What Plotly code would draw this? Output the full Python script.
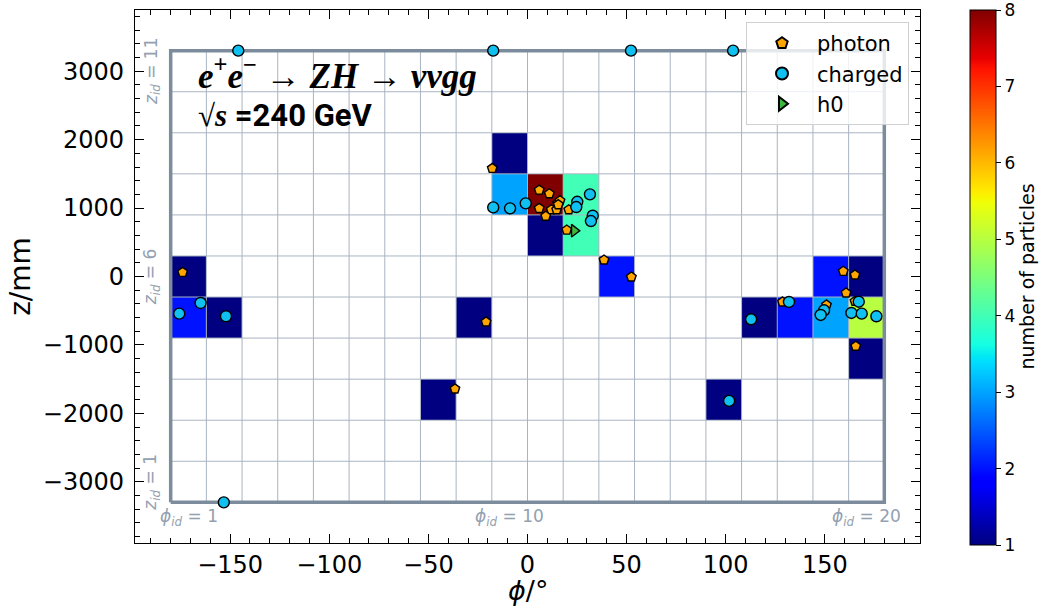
import numpy as np
import plotly.graph_objects as go

# Detector binning: 20 phi cells x 11 z cells
PHI_EDGES = np.linspace(-180, 180, 21)
Z_EDGES = np.linspace(-3300, 3300, 12)

# Occupied cells: (phi_id, z_id, number of particles)
cell_phi_id = [1, 1, 2, 8, 9, 10, 10, 11, 11, 12, 12, 13, 16, 17, 18, 19, 19, 20, 20, 20]
cell_z_id   = [6, 5, 5, 3, 5, 9, 8, 8, 7, 8, 7, 6, 3, 5, 5, 6, 5, 6, 5, 4]
cell_count  = [1, 2, 1, 1, 1, 1, 3, 8, 1, 4, 4, 2, 1, 1, 2, 2, 3, 1, 5, 1]

# Particle positions (phi in degrees, z in mm)
photon_phi = [-174.0, -36.6, -20.9, -17.8, 5.9, 11.0, 15.2, 5.9, 12.0, 14.7, 16.4, 15.5,
              9.2, 20.8, 19.8, 38.6, 52.4, 128.6, 159.3, 160.7, 165.2, 150.8, 165.2, 165.6]
photon_z = [61, -1642, -664, 1580, 1263, 1209, 1069, 996, 975, 975, 1107, 1050,
            880, 975, 679, 241, -7, -372, 76, -241, 22, -416, -362, -1019]

charged_phi = [-175.7, -164.9, -152.1, -17.3, -8.8, -0.9, 25.1, 24.6, 31.5, 32.9, 32.0,
               101.7, 112.8, 131.9, 149.6, 147.9, 167.1, 163.4, 168.6, 176.0,
               -145.9, -17.3, 52.2, 103.7, -153.2]
charged_z = [-543, -387, -581, 1010, 996, 1069, 1092, 1015, 1200, 888, 810,
             -1818, -625, -372, -494, -562, -368, -533, -543, -581,
             3300, 3300, 3300, 3300, -3300]

h0_phi = [23.6]
h0_z = [669]

# matplotlib-style "jet" colour map
JET = {
    "r": [(0, 0), (0.35, 0), (0.66, 1), (0.89, 1), (1, 0.5)],
    "g": [(0, 0), (0.125, 0), (0.375, 1), (0.64, 1), (0.91, 0), (1, 0)],
    "b": [(0, 0.5), (0.11, 1), (0.34, 1), (0.65, 0), (1, 0)],
}
stops = sorted({p for ch in JET.values() for p, _ in ch})


def _chan(name, s):
    xs, ys = zip(*JET[name])
    return np.interp(s, xs, ys)


jet_scale = [[s, "rgb({:.0f},{:.0f},{:.0f})".format(255 * _chan("r", s), 255 * _chan("g", s),
                                                     255 * _chan("b", s))] for s in stops]

phi_centers = 0.5 * (PHI_EDGES[:-1] + PHI_EDGES[1:])
z_centers = 0.5 * (Z_EDGES[:-1] + Z_EDGES[1:])
counts = np.full((len(z_centers), len(phi_centers)), np.nan)
for i, j, c in zip(cell_phi_id, cell_z_id, cell_count):
    counts[j - 1, i - 1] = c

GRID_COLOR = "#a9b4c2"
FRAME_COLOR = "#7d8c9c"
LABEL_COLOR = "#93a1b1"

# plot-area geometry in pixels
L, R, T, B = 135, 121, 10, 63
W, H = 1041, 606
PW, PH = W - L - R, H - T - B


def px_x(x):
    return (x - L) / PW


def px_y(y):
    return (H - B - y) / PH


fig = go.Figure()

fig.add_trace(go.Heatmap(
    x=phi_centers, y=z_centers, z=counts,
    colorscale=jet_scale, zmin=1, zmax=8,
    hoverongaps=False, showscale=True,
    colorbar=dict(
        x=px_x(970), xanchor="left", xpad=0, y=px_y(277.5), yanchor="middle", ypad=0,
        len=535 / PH, lenmode="fraction", thickness=26,
        outlinewidth=1, outlinecolor="black",
        tickvals=list(range(1, 9)), ticks="outside", ticklen=5, tickcolor="black",
        ticklabeloverflow="allow",
        tickfont=dict(family="DejaVu Sans", size=17, color="black"),
    ),
))

# cell grid
gx, gy = [], []
for p in PHI_EDGES[1:-1]:
    gx += [p, p, None]
    gy += [Z_EDGES[0], Z_EDGES[-1], None]
for zz in Z_EDGES[1:-1]:
    gx += [PHI_EDGES[0], PHI_EDGES[-1], None]
    gy += [zz, zz, None]
fig.add_trace(go.Scatter(x=gx, y=gy, mode="lines", line=dict(color=GRID_COLOR, width=1),
                         hoverinfo="skip", showlegend=False))

# detector outline
fig.add_trace(go.Scatter(
    x=[PHI_EDGES[0], PHI_EDGES[-1], PHI_EDGES[-1], PHI_EDGES[0], PHI_EDGES[0]],
    y=[Z_EDGES[0], Z_EDGES[0], Z_EDGES[-1], Z_EDGES[-1], Z_EDGES[0]],
    mode="lines", line=dict(color=FRAME_COLOR, width=3.5),
    hoverinfo="skip", showlegend=False))

fig.add_trace(go.Scatter(
    x=photon_phi, y=photon_z, mode="markers", name="photon", legendgroup="photon",
    marker=dict(symbol="pentagon", size=10, color="#ffa500",
                line=dict(color="black", width=1.4))))
fig.add_trace(go.Scatter(
    x=charged_phi, y=charged_z, mode="markers", name="charged", legendgroup="charged",
    marker=dict(symbol="circle", size=11, color="#10c0f0",
                line=dict(color="black", width=1.4))))
fig.add_trace(go.Scatter(
    x=h0_phi, y=h0_z, mode="markers", name="h0", legendgroup="h0",
    marker=dict(symbol="triangle-right", size=11, color="#3cb83c",
                line=dict(color="black", width=1.4))))

annotations = []
for zid in (11, 6, 1):
    annotations.append(dict(
        x=-189.5, y=z_centers[zid - 1], xref="x", yref="y", showarrow=False, textangle=-90,
        xanchor="center", yanchor="middle",
        text="<i>z</i><sub><i>id</i></sub> = {}".format(zid),
        font=dict(family="DejaVu Sans", size=17, color=LABEL_COLOR)))
for pid in (1, 10, 20):
    annotations.append(dict(
        x=phi_centers[pid - 1], y=-3520, xref="x", yref="y", showarrow=False,
        xanchor="center", yanchor="middle",
        text="<i>ϕ</i><sub><i>id</i></sub> = {}".format(pid),
        font=dict(family="DejaVu Sans", size=17, color=LABEL_COLOR)))

annotations.append(dict(
    x=px_x(196), y=px_y(73), xref="paper", yref="paper", xanchor="left", yanchor="middle",
    showarrow=False,
    text="<b><i>e</i><sup>+</sup><i>e</i><sup>−</sup> → <i>ZH</i> → <i>ννgg</i></b>",
    font=dict(family="Liberation Serif", size=35, color="black")))
annotations.append(dict(
    x=px_x(196), y=px_y(115), xref="paper", yref="paper", xanchor="left", yanchor="middle",
    showarrow=False,
    text="<b>√<i>s</i></b><span style=\"font-family:Roboto\"><b> =240 GeV</b></span>",
    font=dict(family="Liberation Serif", size=31, color="black")))
annotations.append(dict(
    x=px_x(1026), y=px_y(276.5), xref="paper", yref="paper", xanchor="center",
    yanchor="middle", showarrow=False, textangle=-90,
    text="number of particles", font=dict(family="DejaVu Sans", size=19, color="black")))
# x-axis title
annotations.append(dict(
    x=px_x(527.5), y=px_y(590), xref="paper", yref="paper", xanchor="center",
    yanchor="middle", showarrow=False,
    text="<i>ϕ</i>/°", font=dict(family="DejaVu Sans", size=27, color="black")))

axis_common = dict(
    showline=True, linecolor="black", linewidth=1.3, mirror="ticks",
    ticks="inside", ticklen=9, tickwidth=1.2, tickcolor="black",
    showgrid=False, zeroline=False, automargin=False,
    tickfont=dict(family="DejaVu Sans", size=24, color="black"),
)

fig.update_layout(
    width=W, height=H,
    margin=dict(l=L, r=R, t=T, b=B, autoexpand=False),
    paper_bgcolor="white", plot_bgcolor="white",
    xaxis=dict(range=[-198, 198], tick0=0, dtick=50,
               minor=dict(dtick=10, ticklen=5, ticks="inside", tickcolor="black"),
               **axis_common),
    yaxis=dict(range=[-3894, 3894], tick0=0, dtick=1000, ticklabelstandoff=5,
               minor=dict(dtick=200, ticklen=5, ticks="inside", tickcolor="black"),
               title=dict(text="z/mm", standoff=4,
                          font=dict(family="DejaVu Sans", size=28, color="black")),
               **axis_common),
    legend=dict(x=px_x(909), y=px_y(22), xanchor="right", yanchor="top",
                bgcolor="rgba(255,255,255,0.8)", bordercolor="#d0d0d0", borderwidth=1,
                font=dict(family="DejaVu Sans", size=21, color="black"),
                tracegroupgap=0, itemwidth=60, itemsizing="constant"),
    annotations=annotations,
)

fig.write_html("out.html")
